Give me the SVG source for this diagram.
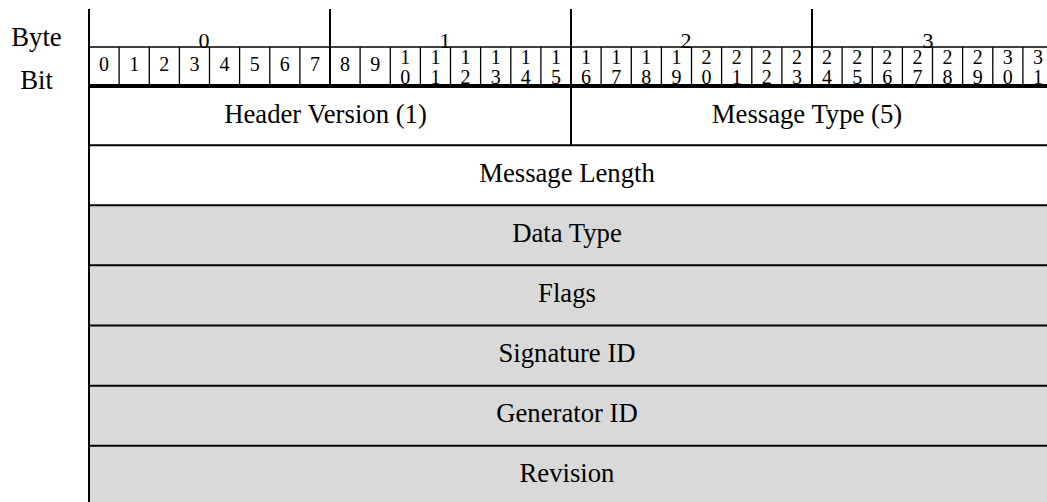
<svg xmlns="http://www.w3.org/2000/svg" width="1047" height="502" viewBox="0 0 1047 502">
<style>
text{font-family:"Liberation Serif","Times New Roman",serif;fill:#000}
.lbl{font-size:26.7px;text-anchor:middle}
.byte{font-size:22px;text-anchor:middle}
.bit{font-size:20px;text-anchor:middle}
.ln{stroke:#000;fill:none}
.shade{fill:#d9d9d9}
</style>
<rect width="1047" height="502" fill="#fff"/>
<g id="legend">
<text class="lbl" x="36.5" y="46">Byte</text>
<text class="lbl" x="36.5" y="89">Bit</text>
</g>
<g id="rows">
<rect class="shade" x="89" y="205" width="958" height="297"/>
</g>
<g id="byte-labels">
<text class="byte" x="204" y="48">0</text>
<text class="byte" x="445" y="48">1</text>
<text class="byte" x="686" y="48">2</text>
<text class="byte" x="928" y="48">3</text>
</g>
<g id="bit-labels">
<text class="bit" x="104.1" y="70.5">0</text>
<text class="bit" x="134.2" y="70.5">1</text>
<text class="bit" x="164.3" y="70.5">2</text>
<text class="bit" x="194.4" y="70.5">3</text>
<text class="bit" x="224.6" y="70.5">4</text>
<text class="bit" x="254.7" y="70.5">5</text>
<text class="bit" x="284.8" y="70.5">6</text>
<text class="bit" x="314.9" y="70.5">7</text>
<text class="bit" x="345.1" y="70.5">8</text>
<text class="bit" x="375.2" y="70.5">9</text>
<text class="bit"><tspan x="405.3" y="63.5">1</tspan><tspan x="405.3" y="83.5">0</tspan></text>
<text class="bit"><tspan x="435.4" y="63.5">1</tspan><tspan x="435.4" y="83.5">1</tspan></text>
<text class="bit"><tspan x="465.6" y="63.5">1</tspan><tspan x="465.6" y="83.5">2</tspan></text>
<text class="bit"><tspan x="495.7" y="63.5">1</tspan><tspan x="495.7" y="83.5">3</tspan></text>
<text class="bit"><tspan x="525.8" y="63.5">1</tspan><tspan x="525.8" y="83.5">4</tspan></text>
<text class="bit"><tspan x="555.9" y="63.5">1</tspan><tspan x="555.9" y="83.5">5</tspan></text>
<text class="bit"><tspan x="586.1" y="63.5">1</tspan><tspan x="586.1" y="83.5">6</tspan></text>
<text class="bit"><tspan x="616.2" y="63.5">1</tspan><tspan x="616.2" y="83.5">7</tspan></text>
<text class="bit"><tspan x="646.3" y="63.5">1</tspan><tspan x="646.3" y="83.5">8</tspan></text>
<text class="bit"><tspan x="676.4" y="63.5">1</tspan><tspan x="676.4" y="83.5">9</tspan></text>
<text class="bit"><tspan x="706.6" y="63.5">2</tspan><tspan x="706.6" y="83.5">0</tspan></text>
<text class="bit"><tspan x="736.7" y="63.5">2</tspan><tspan x="736.7" y="83.5">1</tspan></text>
<text class="bit"><tspan x="766.8" y="63.5">2</tspan><tspan x="766.8" y="83.5">2</tspan></text>
<text class="bit"><tspan x="796.9" y="63.5">2</tspan><tspan x="796.9" y="83.5">3</tspan></text>
<text class="bit"><tspan x="827.1" y="63.5">2</tspan><tspan x="827.1" y="83.5">4</tspan></text>
<text class="bit"><tspan x="857.2" y="63.5">2</tspan><tspan x="857.2" y="83.5">5</tspan></text>
<text class="bit"><tspan x="887.3" y="63.5">2</tspan><tspan x="887.3" y="83.5">6</tspan></text>
<text class="bit"><tspan x="917.4" y="63.5">2</tspan><tspan x="917.4" y="83.5">7</tspan></text>
<text class="bit"><tspan x="947.6" y="63.5">2</tspan><tspan x="947.6" y="83.5">8</tspan></text>
<text class="bit"><tspan x="977.7" y="63.5">2</tspan><tspan x="977.7" y="83.5">9</tspan></text>
<text class="bit"><tspan x="1007.8" y="63.5">3</tspan><tspan x="1007.8" y="83.5">0</tspan></text>
<text class="bit"><tspan x="1037.9" y="63.5">3</tspan><tspan x="1037.9" y="83.5">1</tspan></text>
</g>
<g id="fields">
<g id="header-version"><text class="lbl" x="325.5" y="122.5">Header Version (1)</text></g>
<g id="message-type"><text class="lbl" x="807" y="122.5">Message Type (5)</text></g>
<g id="message-length"><text class="lbl" x="567" y="182">Message Length</text></g>
<g id="data-type"><text class="lbl" x="567" y="242">Data Type</text></g>
<g id="flags"><text class="lbl" x="567" y="302">Flags</text></g>
<g id="signature-id"><text class="lbl" x="567" y="362">Signature ID</text></g>
<g id="generator-id"><text class="lbl" x="567" y="422">Generator ID</text></g>
<g id="revision"><text class="lbl" x="567" y="482">Revision</text></g>
</g>
<g id="connectors">
<path class="ln" stroke-width="1.3" d="M119.1 47V84M149.3 47V84M179.4 47V84M209.5 47V84M239.6 47V84M269.8 47V84M299.9 47V84M360.1 47V84M390.3 47V84M420.4 47V84M450.5 47V84M480.6 47V84M510.8 47V84M540.9 47V84M601.1 47V84M631.3 47V84M661.4 47V84M691.5 47V84M721.6 47V84M751.8 47V84M781.9 47V84M842.1 47V84M872.3 47V84M902.4 47V84M932.5 47V84M962.6 47V84M992.8 47V84M1022.9 47V84"/>
<path class="ln" stroke-width="2" d="M330 9V86M571 9V146M812 9V86"/>
<path class="ln" stroke-width="1.6" d="M89 47H1047"/>
<path class="ln" stroke-width="4" d="M89 86H1047"/>
<path class="ln" stroke-width="2" d="M89 145.3H1047M89 205.3H1047M89 265.3H1047M89 325.5H1047M89 385.7H1047M89 445.7H1047"/>
<path class="ln" stroke-width="2" d="M89 9V502"/>
</g>
</svg>
